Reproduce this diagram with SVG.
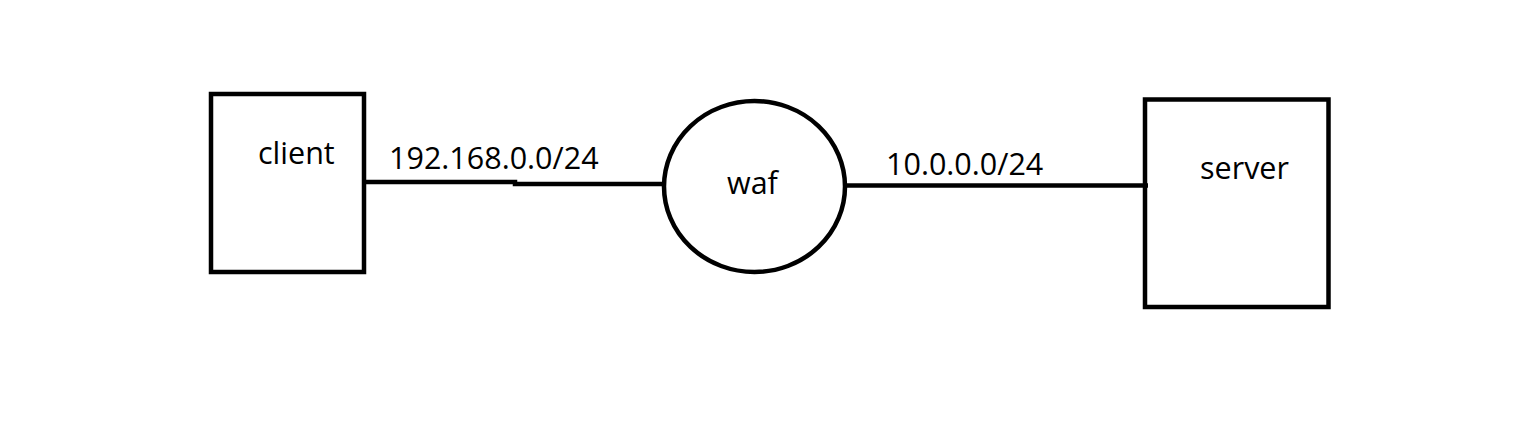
<svg xmlns="http://www.w3.org/2000/svg" width="1516" height="435" viewBox="0 0 1516 435">
<style>
.shape{fill:none;stroke:#000;stroke-width:4.5}
.conn{fill:none;stroke:#000;stroke-width:4.5}
text{font-family:"Open Sans","Noto Sans",sans-serif;font-size:30.5px;fill:#000}
</style>
<rect width="1516" height="435" fill="#fff"/>
<g id="connectors">
<polyline class="conn" points="366,182 515,182 515,184 663,184"/>
<line class="conn" x1="847" y1="185.5" x2="1148" y2="185.5"/>
</g>
<g id="client">
<rect class="shape" x="211" y="94" width="153" height="178"/>
<text x="258" y="164">client</text>
</g>
<g id="waf">
<ellipse class="shape" cx="754.5" cy="186.5" rx="90.5" ry="85.5"/>
<text x="727" y="194">waf</text>
</g>
<g id="server">
<rect class="shape" x="1145" y="99.5" width="183.5" height="207.5"/>
<text x="1200" y="179">server</text>
</g>
<g id="labels">
<text x="389" y="169">192.168.0.0/24</text>
<text x="886" y="175">10.0.0.0/24</text>
</g>
</svg>
